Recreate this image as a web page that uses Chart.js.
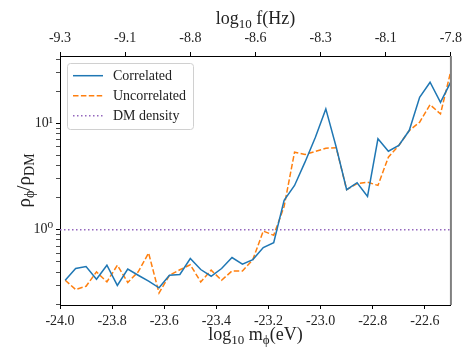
<!DOCTYPE html>
<html>
<head>
<meta charset="utf-8">
<script src="https://cdn.jsdelivr.net/npm/chart.js@4.4.1/dist/chart.umd.min.js"></script>
<style>
  html, body { margin: 0; padding: 0; background: #fff; }
</style>
</head>
<body>
<canvas id="densityChart" width="467" height="348"></canvas>
<script>
// log10 of the scalar mass, one entry per sample
const massLog = [
  -23.98, -23.94, -23.90, -23.86, -23.82, -23.78, -23.74, -23.70, -23.66, -23.62,
  -23.58, -23.54, -23.50, -23.46, -23.42, -23.38, -23.34, -23.30, -23.26, -23.22,
  -23.18, -23.14, -23.10, -23.06, -23.02, -22.98, -22.94, -22.90, -22.86, -22.82,
  -22.78, -22.74, -22.70, -22.66, -22.62, -22.58, -22.54, -22.50
];
const correlated = [
  0.335, 0.431, 0.450, 0.342, 0.463, 0.299, 0.427, 0.373, 0.328, 0.284,
  0.373, 0.379, 0.535, 0.422, 0.365, 0.431, 0.547, 0.473, 0.523, 0.678,
  0.755, 1.88, 2.60, 4.30, 7.38, 13.6, 5.94, 2.37, 2.76, 2.05,
  7.13, 5.45, 6.17, 8.52, 17.5, 24.2, 15.7, 24.5
];
const uncorrelated = [
  0.335, 0.274, 0.294, 0.401, 0.323, 0.463, 0.319, 0.401, 0.603, 0.254,
  0.373, 0.420, 0.468, 0.323, 0.416, 0.335, 0.409, 0.409, 0.523, 0.970,
  0.884, 1.65, 5.34, 5.08, 5.42, 5.82, 5.87, 2.37, 2.70, 2.79,
  2.60, 4.79, 6.17, 8.52, 10.2, 14.9, 12.2, 31.1
];
const dmMass = [-24.0, -22.5];
const dmLevel = [1, 1];

const massTicks = [-24.0, -23.8, -23.6, -23.4, -23.2, -23.0, -22.8, -22.6];
const freqTickPos = [-24.0, -23.75, -23.5, -23.25, -23.0, -22.75, -22.5];
const freqTickLabels = ["-9.3", "-9.1", "-8.8", "-8.6", "-8.3", "-8.1", "-7.8"];
const densityTicks = [
  0.2, 0.3, 0.4, 0.5, 0.6, 0.7, 0.8, 0.9,
  1, 2, 3, 4, 5, 6, 7, 8, 9,
  10, 20, 30, 40
];

const serif = "'Liberation Serif', 'DejaVu Serif', serif";

function toPoints(xs, ys) {
  return xs.map((x, i) => ({ x: x, y: ys[i] }));
}

// text with subscript pieces, centred on x
function drawRich(ctx, parts, x, y, size) {
  const subSize = Math.round(size * 0.72);
  let total = 0;
  parts.forEach((p) => {
    ctx.font = (p.sub ? subSize : size) + "px " + serif;
    total += ctx.measureText(p.t).width;
  });
  let cx = x - total / 2;
  ctx.textAlign = "left";
  ctx.textBaseline = "alphabetic";
  parts.forEach((p) => {
    ctx.font = (p.sub ? subSize : size) + "px " + serif;
    ctx.fillText(p.t, cx, p.sub ? y + size * 0.2 : y);
    cx += ctx.measureText(p.t).width;
  });
}

const extras = {
  id: "extras",
  afterDraw(chart) {
    const ctx = chart.ctx;
    const area = chart.chartArea;
    ctx.save();

    // right spine
    ctx.strokeStyle = "#808080";
    ctx.lineWidth = 2;
    ctx.beginPath();
    ctx.moveTo(area.right, area.top);
    ctx.lineTo(area.right, area.bottom);
    ctx.stroke();

    ctx.fillStyle = "#222";
    const midX = (area.left + area.right) / 2;
    drawRich(ctx, [{ t: "log" }, { t: "10", sub: true }, { t: " f(Hz)" }], midX, 24, 18);
    drawRich(ctx, [{ t: "log" }, { t: "10", sub: true }, { t: " m" }, { t: "\u03d5", sub: true }, { t: "(eV)" }], midX, 340, 18);

    ctx.save();
    ctx.translate(30, (area.top + area.bottom) / 2);
    ctx.rotate(-Math.PI / 2);
    drawRich(ctx, [{ t: "\u03c1" }, { t: "\u03d5", sub: true }, { t: "/\u03c1" }, { t: "DM", sub: true }], 0, 0, 19);
    ctx.restore();

    // legend
    const lx = 67.5, ly = 63.5, lw = 126, lh = 66;
    ctx.fillStyle = "rgba(255,255,255,0.85)";
    ctx.strokeStyle = "#d0d0d0";
    ctx.lineWidth = 1;
    ctx.beginPath();
    ctx.roundRect(lx, ly, lw, lh, 3);
    ctx.fill();
    ctx.stroke();
    chart.data.datasets.forEach((ds, i) => {
      const rowY = 75.7 + i * 20;
      ctx.strokeStyle = ds.borderColor;
      ctx.lineWidth = ds.borderWidth;
      ctx.setLineDash(ds.borderDash || []);
      ctx.beginPath();
      ctx.moveTo(73, rowY);
      ctx.lineTo(103, rowY);
      ctx.stroke();
      ctx.setLineDash([]);
      ctx.fillStyle = "#222";
      ctx.font = "14px " + serif;
      ctx.textAlign = "left";
      ctx.textBaseline = "middle";
      ctx.fillText(ds.label, 113, rowY + 1);
    });
    ctx.restore();
  },
};

new Chart(document.getElementById("densityChart"), {
  type: "line",
  data: {
    datasets: [
      {
        label: "Correlated",
        data: toPoints(massLog, correlated),
        borderColor: "#1f77b4",
        borderWidth: 1.5,
        pointRadius: 0,
        tension: 0,
      },
      {
        label: "Uncorrelated",
        data: toPoints(massLog, uncorrelated),
        borderColor: "#ff7f0e",
        borderWidth: 1.5,
        borderDash: [5.5, 2.4],
        pointRadius: 0,
        tension: 0,
      },
      {
        label: "DM density",
        data: toPoints(dmMass, dmLevel),
        borderColor: "#9467bd",
        borderWidth: 1.5,
        borderDash: [1.5, 2.5],
        pointRadius: 0,
        tension: 0,
      },
    ],
  },
  options: {
    responsive: false,
    animation: false,
    devicePixelRatio: 1,
    layout: { padding: { left: 0, right: 13, top: 0, bottom: 0 } },
    plugins: { legend: { display: false }, tooltip: { enabled: false } },
    scales: {
      x: {
        type: "linear",
        position: "bottom",
        min: -24.0,
        max: -22.5,
        afterBuildTicks: (scale) => {
          scale.ticks = massTicks.map((v) => ({ value: v }));
        },
        afterFit: (scale) => {
          scale.height = 43;
        },
        ticks: {
          autoSkip: false,
          maxRotation: 0,
          padding: 4,
          color: "#222",
          font: { family: serif, size: 14 },
          callback: (v) => Number(v).toFixed(1),
        },
        grid: { drawOnChartArea: false, tickLength: 4, tickColor: "#000" },
        border: { color: "#000", width: 1 },
      },
      xTop: {
        type: "linear",
        position: "top",
        min: -24.0,
        max: -22.5,
        afterBuildTicks: (scale) => {
          scale.ticks = freqTickPos.map((v) => ({ value: v }));
        },
        afterFit: (scale) => {
          scale.height = 56;
        },
        ticks: {
          autoSkip: false,
          maxRotation: 0,
          padding: 5,
          color: "#222",
          font: { family: serif, size: 14 },
          callback: (v, i) => freqTickLabels[i],
        },
        grid: { drawOnChartArea: false, tickLength: 4, tickColor: "#000" },
        border: { color: "#000", width: 1 },
      },
      y: {
        type: "logarithmic",
        min: 0.196,
        max: 42.7,
        afterBuildTicks: (scale) => {
          scale.ticks = densityTicks.map((v) => ({ value: v }));
        },
        afterFit: (scale) => {
          scale.width = 60;
        },
        ticks: {
          autoSkip: false,
          padding: 3,
          color: "#222",
          font: { family: serif, size: 14 },
          callback: (v) => (v === 1 ? "10\u2070" : v === 10 ? "10\u00b9" : ""),
        },
        grid: {
          drawOnChartArea: false,
          tickLength: 4,
          tickColor: "#000",
          tickWidth: (c) => (c.tick && (c.tick.value === 1 || c.tick.value === 10) ? 1 : 0.7),
        },
        border: { color: "#000", width: 1 },
      },
    },
  },
  plugins: [extras],
});
</script>
</body>
</html>
